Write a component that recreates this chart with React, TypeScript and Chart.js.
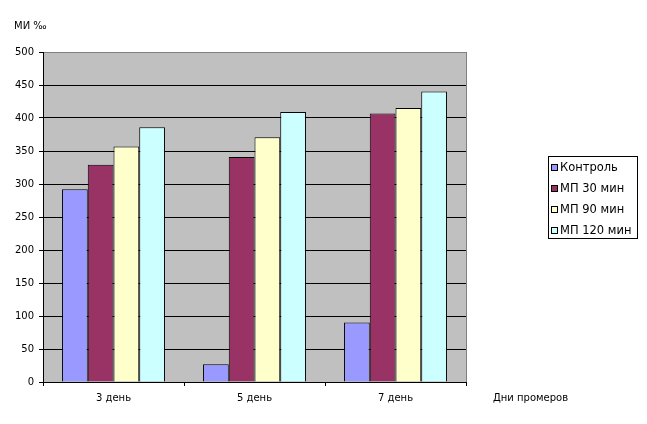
import React, { useEffect, useRef } from "react";
import { Chart, registerables } from "chart.js";

Chart.register(...registerables);

const categories = ["3 день", "5 день", "7 день"];
const seriesNames = ["Контроль", "МП 30 мин", "МП 90 мин", "МП 120 мин"];
const control = [292, 27, 90];
const mp30 = [329, 341, 407];
const mp90 = [357, 371, 415];
const mp120 = [386, 409, 440];
const colors = ["#9999FF", "#993366", "#FFFFCC", "#CCFFFF"];
const yTitle = "МИ ‰";
const xTitle = "Дни промеров";

const FONT = "'DejaVu Sans', Verdana, sans-serif";

const decorPlugin = {
  id: "decor",
  beforeDraw(chart: any) {
    const { ctx, chartArea } = chart;
    ctx.save();
    ctx.fillStyle = "#C0C0C0";
    ctx.fillRect(chartArea.left, chartArea.top, chartArea.right - chartArea.left, chartArea.bottom - chartArea.top);
    ctx.restore();
  },
  afterDraw(chart: any) {
    const { ctx, chartArea } = chart;
    ctx.save();
    // gray right border
    ctx.strokeStyle = "#808080";
    ctx.lineWidth = 1;
    ctx.beginPath();
    ctx.moveTo(Math.round(chartArea.right) + 0.5, chartArea.top);
    ctx.lineTo(Math.round(chartArea.right) + 0.5, chartArea.bottom);
    ctx.stroke();

    // titles
    ctx.fillStyle = "#000";
    ctx.font = `10px ${FONT}`;
    ctx.textBaseline = "middle";
    ctx.textAlign = "left";
    ctx.fillText(yTitle, 14, 26);
    ctx.fillText(xTitle, 493, 398);

    // legend
    const bx = 548.5, by = 156.5, bw = 89, bh = 82;
    ctx.strokeStyle = "#000";
    ctx.strokeRect(bx, by, bw, bh);
    ctx.font = `11.5px ${FONT}`;
    const rowY = [168, 189, 210, 231];
    chart.data.datasets.forEach((ds: any, i: number) => {
      const y = rowY[i];
      ctx.fillStyle = ds.backgroundColor;
      ctx.fillRect(551.5, y - 3.5, 6, 6);
      ctx.strokeStyle = "#000";
      ctx.strokeRect(551.5, y - 3.5, 6, 6);
      ctx.fillStyle = "#000";
      ctx.fillText(ds.label, 560, y + 0.5);
    });
    ctx.restore();
  },
};

export default function App() {
  const ref = useRef<HTMLCanvasElement | null>(null);
  useEffect(() => {
    if (!ref.current) return;
    const values = [control, mp30, mp90, mp120];
    const chart = new Chart(ref.current, {
      type: "bar",
      data: {
        labels: categories,
        datasets: seriesNames.map((name, i) => ({
          label: name,
          data: values[i],
          backgroundColor: colors[i],
          borderColor: "#000",
          borderWidth: 1,
          categoryPercentage: 0.73,
          barPercentage: 1,
        })),
      },
      options: {
        animation: false,
        responsive: true,
        maintainAspectRatio: false,
        devicePixelRatio: 1,
        layout: { padding: { left: 0, top: 52, right: 181, bottom: 0 } },
        plugins: { legend: { display: false }, tooltip: { enabled: false }, title: { display: false } },
        scales: {
          x: {
            grid: { drawOnChartArea: false, drawTicks: true, tickLength: 4, color: "#000", offset: true },
            border: { color: "#000" },
            ticks: { color: "#000", font: { family: FONT, size: 10 }, padding: 6 },
            afterFit: (s: any) => { s.height = 42; },
          },
          y: {
            min: 0,
            max: 500,
            ticks: { stepSize: 50, color: "#000", font: { family: FONT, size: 10 }, padding: 5 },
            grid: {
              color: (c: any) => (c.tick && c.tick.value === 500 ? "#808080" : "#000"),
              tickColor: "#000",
              tickLength: 4,
              lineWidth: 1,
            },
            border: { color: "#000" },
            afterFit: (s: any) => { s.width = 43; },
          },
        },
      },
      plugins: [decorPlugin],
    });
    return () => chart.destroy();
  }, []);
  return (
    <div style={{ position: "absolute", left: 0, top: 0, width: 647, height: 424, background: "#fff" }}>
      <canvas ref={ref} />
    </div>
  );
}
